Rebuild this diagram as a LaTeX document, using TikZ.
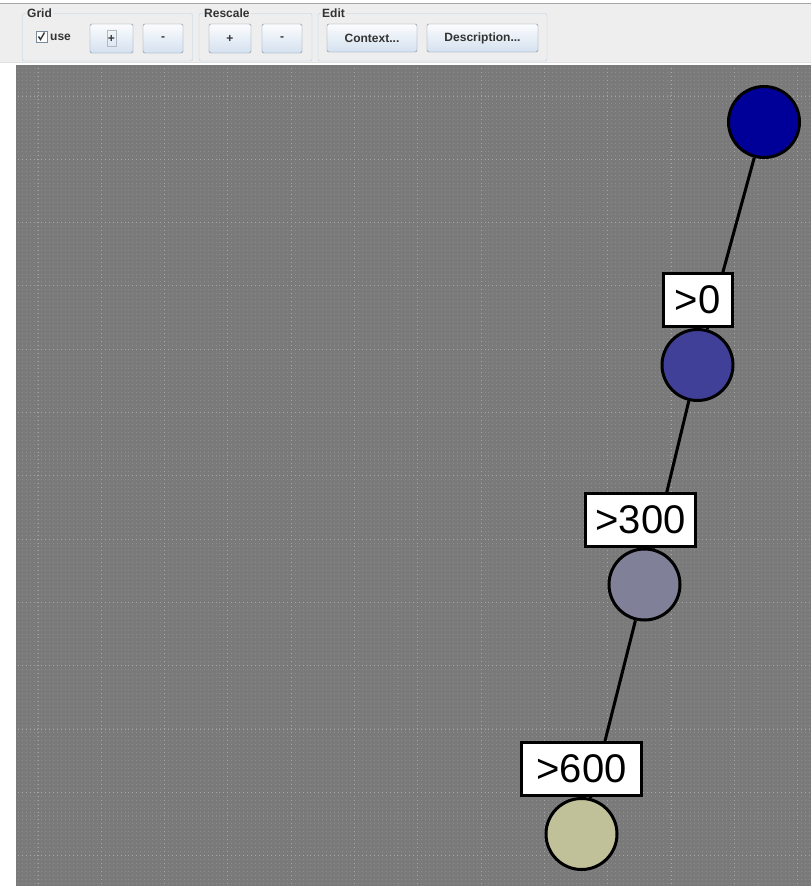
\documentclass[tikz,border=0pt]{standalone}
\usepackage{fontspec}
\setmainfont{Liberation Sans}
\usetikzlibrary{positioning,backgrounds}
\definecolor{CanvasClr}{RGB}{122,122,122}
\definecolor{DotClr}{RGB}{140,140,140}
\definecolor{MajorClr}{RGB}{168,168,168}
\definecolor{PanelClr}{RGB}{238,238,238}
\definecolor{FrameClr}{RGB}{184,207,229}
\definecolor{ButtonClr}{RGB}{122,138,153}
\definecolor{ButtonTopClr}{RGB}{251,252,254}
\definecolor{ButtonBotClr}{RGB}{212,225,239}
\definecolor{LevelAClr}{RGB}{0,0,153}
\definecolor{LevelBClr}{RGB}{64,64,153}
\definecolor{LevelCClr}{RGB}{128,128,153}
\definecolor{LevelDClr}{RGB}{192,192,153}

\begin{document}
\begin{tikzpicture}[x=1pt,y=-1pt,
  level/.style={circle,draw=black,line width=3pt,minimum size=71pt,inner sep=0pt},
  limit/.style={rectangle,draw=black,fill=white,line width=3pt,minimum height=53pt,
    inner sep=0pt,font=\fontsize{40}{48}\selectfont},
  link/.style={line width=3pt,black},
  btn/.style={rectangle,rounded corners=1.5pt,draw=ButtonClr,top color=ButtonTopClr,
    bottom color=ButtonBotClr,minimum height=29pt,inner sep=0pt,
    font=\bfseries\fontsize{12}{14}\selectfont,text=black!80},
  group/.style={draw=FrameClr,rounded corners=2pt},
  grouptitle/.style={fill=PanelClr,inner sep=1pt,anchor=west,
    font=\bfseries\fontsize{12}{14}\selectfont,text=black!80},
  dots/.style={line width=1pt,dash pattern=on 1pt off 2.956pt}]
\useasboundingbox (0,0) rectangle (811,886);

% tree of levels
\node[level,fill=LevelAClr] (top) at (764,122) {};
\node[level,fill=LevelBClr] (over0) at (697.5,365) {};
\node[level,fill=LevelCClr] (over300) at (644.5,584.5) {};
\node[level,fill=LevelDClr] (over600) at (581.5,834) {};

\node[limit,minimum width=69pt] (lim0) [above=0pt of over0] {>0};
\node[limit,minimum width=110pt,xshift=-4pt] (lim300) [above=0pt of over300] {>300};
\node[limit,minimum width=120pt] (lim600) [above=0pt of over600] {>600};

\begin{scope}[on background layer]
\fill[white] (0,0) rectangle (811,886);
\fill[PanelClr] (0,3) rectangle (811,63);
\draw[black!35] (0,3.5) -- (811,3.5);
\draw[black!12] (0,62.5) -- (811,62.5);

% canvas with its grid
\begin{scope}
\clip (16,65) rectangle (811,886);
\fill[CanvasClr] (16,65) rectangle (811,886);
\foreach \i in {-6,...,196}
  \draw[dots,DotClr] ({38+\i*3.956},63.85) -- ++(0,830);
\foreach \j in {-8,...,200}
  \draw[dots,DotClr] (13.76,{96+\j*3.956}) -- ++(805,0);
\foreach \k in {0,...,12} {
  \draw[dots,MajorClr] ({38+\k*63.3},63.85) -- ++(0,830);
  \draw[dots,MajorClr] (13.76,{96+\k*63.3}) -- ++(805,0);
}
\end{scope}

\draw[link] (top) -- (over0);
\draw[link] (over0) -- (over300);
\draw[link] (over300) -- (over600);
\end{scope}

% toolbar
\draw[group] (22.5,13.5) rectangle (192.5,61);
\node[grouptitle] (gridtitle) at (26,13) {Grid};
\draw[group] (199,13.5) rectangle (312,61);
\node[grouptitle] (scaletitle) at (203,13) {Rescale};
\draw[group] (318,13.5) rectangle (547,61);
\node[grouptitle] (edittitle) at (321,13) {Edit};

\node[draw=ButtonClr,fill=white,minimum size=11pt,inner sep=0pt] (usebox) at (41.5,36.5) {};
\draw[black!80,line width=1.4pt] (usebox.center) ++(-3,0) -- ++(2,3) -- ++(4,-7);
\node[anchor=west,inner sep=0pt,font=\bfseries\fontsize{12}{14}\selectfont,text=black!80]
  (uselabel) at (50,37) {use};

\node[btn,minimum width=43pt] (gridplus) at (111.5,38.5) {+};
\node[draw=ButtonClr!60,line width=0.5pt,minimum width=9pt,minimum height=16pt,inner sep=0pt]
  (focus) at (gridplus) {};
\node[btn,minimum width=40pt] (gridminus) at (163,38.5) {-};
\node[btn,minimum width=42pt] (scaleplus) at (230,38.5) {+};
\node[btn,minimum width=40pt] (scaleminus) at (282,38.5) {-};
\node[btn,minimum width=90pt,minimum height=28pt] (context) at (372,38) {Context...};
\node[btn,minimum width=111pt,minimum height=28pt] (descr) at (482.5,38) {Description...};

\end{tikzpicture}
\end{document}
